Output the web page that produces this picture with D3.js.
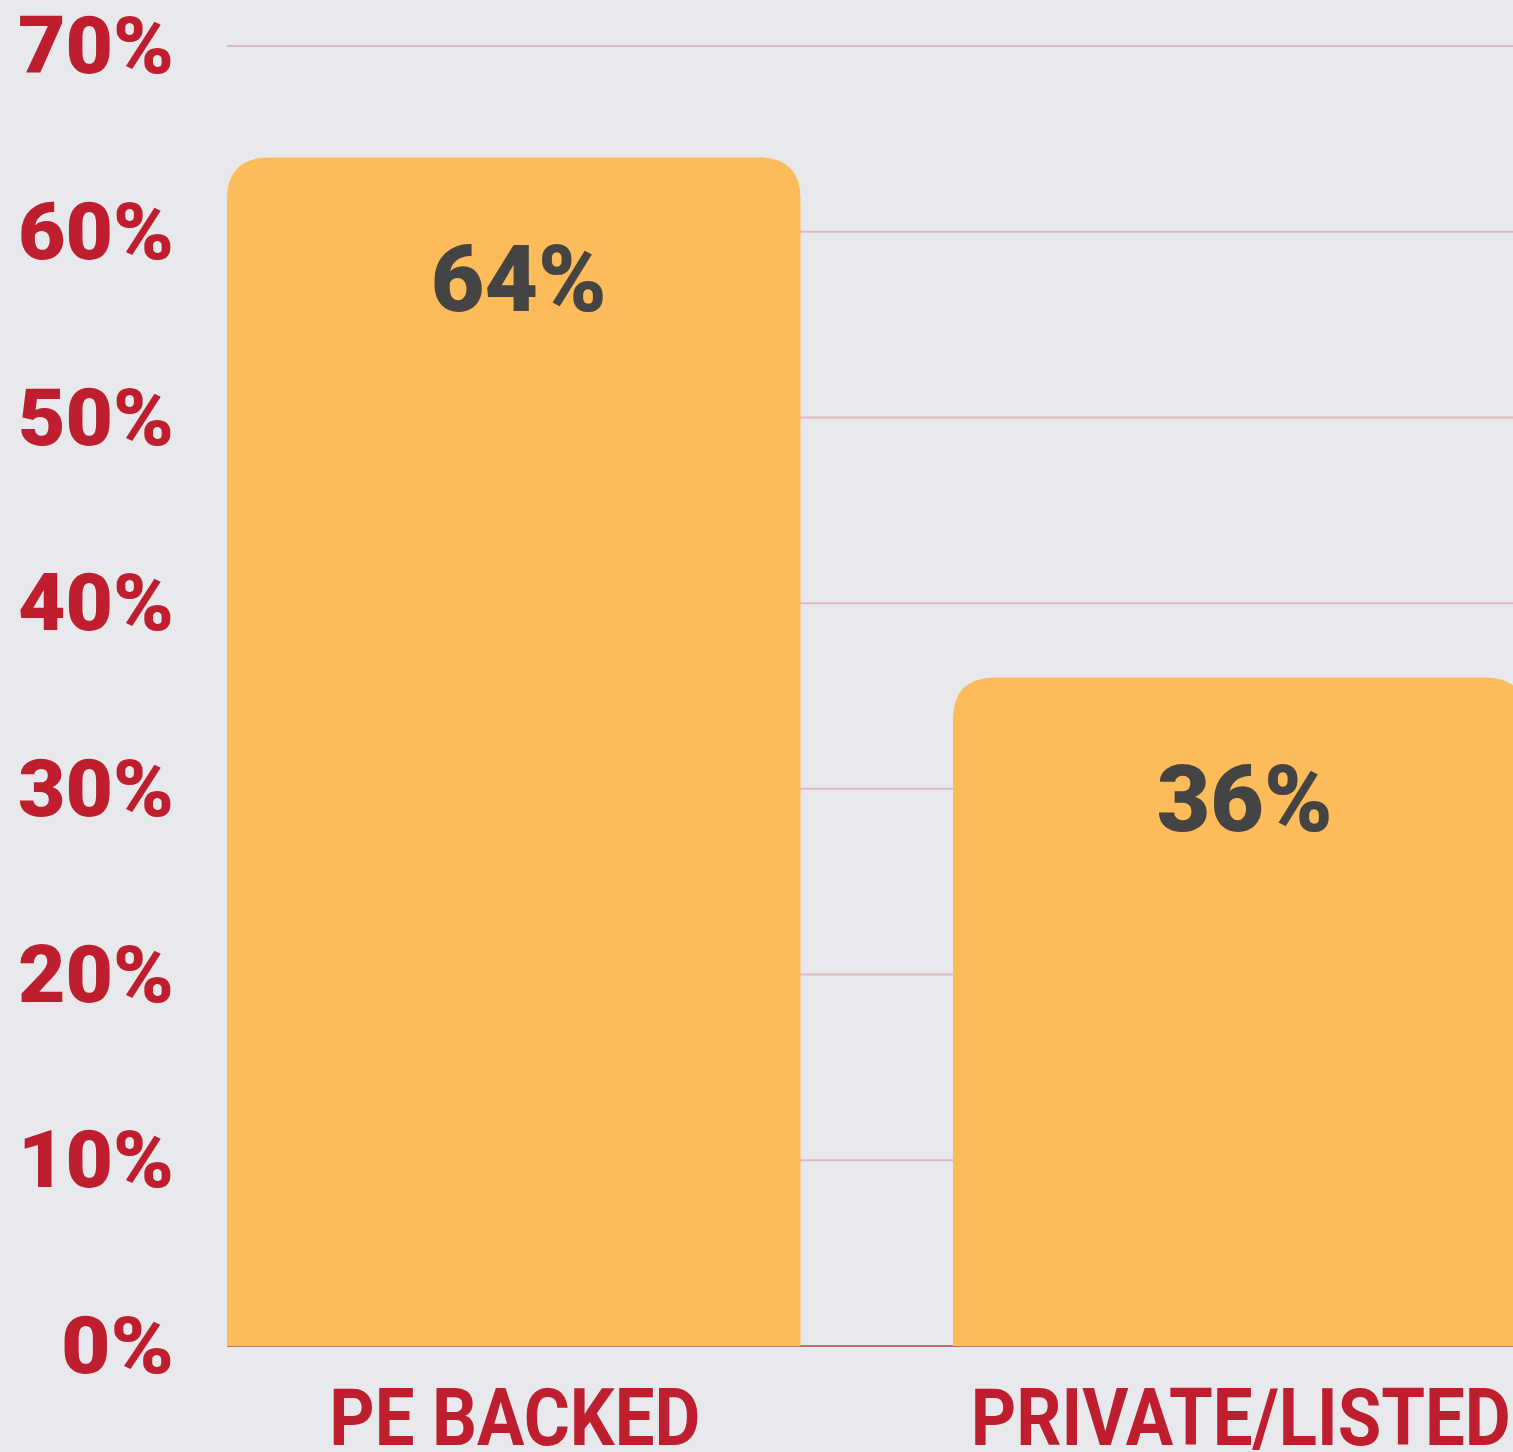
<!DOCTYPE html>
<html><head><meta charset="utf-8">
<script src="https://cdn.jsdelivr.net/npm/d3@7"></script>
<style>html,body{margin:0;padding:0;background:#e8e9ed;overflow:hidden}</style>
</head><body>
<script>
const categories = ["PE BACKED", "PRIVATE/LISTED"];
const values = [64, 36];
const valueLabels = ["64%", "36%"];
const tickValues = [0, 10, 20, 30, 40, 50, 60, 70];
const tickLabels = ["0%", "10%", "20%", "30%", "40%", "50%", "60%", "70%"];

const W = 1513, H = 1452;
const svg = d3.select("body").append("svg").attr("width", W).attr("height", H)
  .style("display", "block").style("background", "#e8e9ed");

const y = d3.scaleLinear().domain([0, 70]).range([1346, 46]);
const x = d3.scaleBand().domain(categories).range([227, 1526.5]).paddingInner(0.21).paddingOuter(0);

const red = "#bf1e2e";

// gridlines
svg.append("g").selectAll("line").data(tickValues.filter(d => d > 0)).join("line")
  .attr("x1", 227).attr("x2", W).attr("y1", d => y(d)).attr("y2", d => y(d))
  .attr("stroke", "#dbb9c1").attr("stroke-width", 2);
svg.append("line").attr("x1", 227).attr("x2", W).attr("y1", y(0)).attr("y2", y(0))
  .attr("stroke", "#c96877").attr("stroke-width", 2);

// tick labels
svg.append("g").selectAll("text").data(tickValues).join("text")
  .attr("x", 174).attr("y", d => y(d)).attr("dy", "0.34em")
  .attr("text-anchor", "end").attr("fill", red)
  .attr("font-family", "Roboto, sans-serif").attr("font-weight", 900).attr("font-size", 80)
  .attr("textLength", (d, i) => tickLabels[i].length === 2 ? 113 : 156)
  .attr("lengthAdjust", "spacingAndGlyphs")
  .text((d, i) => tickLabels[i]);

// bars with rounded top corners
const r = 42;
function barPath(x0, w, yTop, yBot) {
  return `M${x0},${yBot}V${yTop + r}Q${x0},${yTop} ${x0 + r},${yTop}H${x0 + w - r}Q${x0 + w},${yTop} ${x0 + w},${yTop + r}V${yBot}Z`;
}
svg.append("g").selectAll("path").data(categories).join("path")
  .attr("d", (c, i) => barPath(x(c), x.bandwidth(), y(values[i]), y(0)))
  .attr("fill", "#fdbb5a");

// value labels
svg.append("g").selectAll("text").data(categories).join("text")
  .attr("x", (c, i) => x(c) + x.bandwidth() / 2 + 5)
  .attr("y", (c, i) => y(values[i]) + 154)
  .attr("text-anchor", "middle").attr("fill", "#444444")
  .attr("font-family", "Roboto, sans-serif").attr("font-weight", 900).attr("font-size", 92)
  .attr("textLength", 176).attr("lengthAdjust", "spacingAndGlyphs")
  .text((c, i) => valueLabels[i]);

// category labels
svg.append("g").selectAll("text").data(categories).join("text")
  .attr("x", c => x(c) + x.bandwidth() / 2 + 1)
  .attr("y", 1445)
  .attr("text-anchor", "middle").attr("fill", red)
  .attr("font-family", "Roboto, sans-serif").attr("font-weight", 700).attr("font-size", 80)
  .attr("textLength", (c, i) => i === 0 ? 371 : 540)
  .attr("lengthAdjust", "spacingAndGlyphs")
  .text(c => c);
</script>
</body></html>
